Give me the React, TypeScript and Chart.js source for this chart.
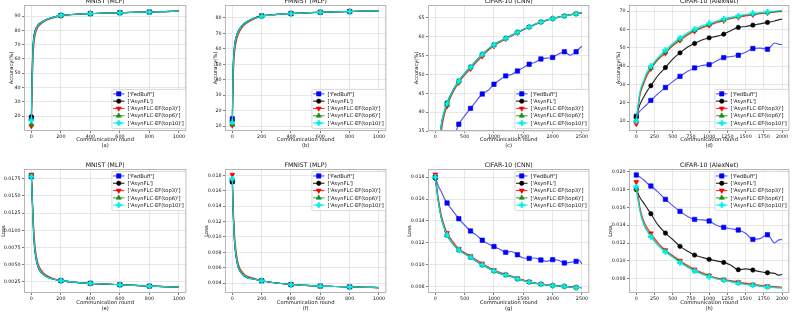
import React, { useEffect, useRef } from "react";
import { Chart, registerables } from "chart.js";
Chart.register(...registerables);

const FONT = "'DejaVu Sans', 'Liberation Sans', sans-serif";
Chart.defaults.font.family = FONT;

// ---------------- data ----------------
const SERIES_NAMES = ["['FedBuff']", "['AsynFL']", "['AsynFLC-EF(top3)']", "['AsynFLC-EF(top6)']", "['AsynFLC-EF(top10)']"];

const X_SHORT = [0, 5, 10, 15, 20, 30, 40, 50, 75, 100, 150, 200, 300, 400, 500, 600, 700, 800, 900, 1000];
const X_CNN = [0, 50, 100, 150, 200, 300, 400, 500, 600, 700, 800, 900, 1000, 1100, 1200, 1300, 1400, 1500, 1600, 1700, 1800, 1900, 2000, 2100, 2200, 2300, 2400, 2450, 2500];
const X_ALEX = [0, 50, 100, 150, 200, 300, 400, 500, 600, 700, 800, 900, 1000, 1100, 1200, 1300, 1400, 1500, 1600, 1700, 1800, 1900, 1950, 2000];

const X_TICKS_1000 = [0, 200, 400, 600, 800, 1000];
const X_TICKS_2500 = [0, 500, 1000, 1500, 2000, 2500];
const X_TICKS_2000 = [0, 250, 500, 750, 1000, 1250, 1500, 1750, 2000];

// (a) MNIST (MLP) accuracy
const A_FEDBUFF = [18.5, 48, 66, 73.5, 77.5, 81, 83, 84.3, 86.2, 87.5, 89.2, 90.5, 91.3, 91.8, 92.1, 92.4, 92.7, 92.9, 93.2, 93.5];
const A_ASYNFL = [19.5, 50, 67, 74.5, 78, 81.3, 83.2, 84.5, 86.3, 87.6, 89.3, 90.5, 91.3, 91.8, 92.1, 92.4, 92.7, 92.9, 93.2, 93.5];
const A_TOP3 = [13, 38, 56, 67, 73, 78.5, 81.2, 83, 85.3, 86.9, 88.8, 90.3, 91.2, 91.8, 92.1, 92.4, 92.7, 92.9, 93.2, 93.5];
const A_TOP6 = [14, 42, 61, 70, 75.5, 80, 82.3, 83.8, 85.8, 87.3, 89.1, 90.4, 91.3, 91.8, 92.1, 92.4, 92.7, 92.9, 93.2, 93.5];
const A_TOP10 = [17, 46, 64, 72.5, 77, 80.8, 83, 84.3, 86.2, 87.5, 89.2, 90.5, 91.3, 91.8, 92.1, 92.4, 92.7, 92.9, 93.2, 93.5];
const A_Y_TICKS = [20, 30, 40, 50, 60, 70, 80, 90];

// (b) FMNIST (MLP) accuracy
const B_FEDBUFF = [14.8, 46, 57, 62, 65.5, 69, 71.3, 73.1, 76, 77.7, 79.8, 81.3, 82.2, 82.8, 83.2, 83.6, 83.9, 84.1, 84.4, 84.6];
const B_ASYNFL = [13.5, 45, 56.5, 61.8, 65.3, 68.8, 71.2, 73, 76, 77.7, 79.8, 81.3, 82.2, 82.8, 83.2, 83.6, 83.9, 84.1, 84.4, 84.6];
const B_TOP3 = [10.5, 35, 50, 57, 61, 66, 69, 71.2, 74.6, 76.6, 79.2, 81, 82.1, 82.8, 83.2, 83.6, 83.9, 84.1, 84.4, 84.6];
const B_TOP6 = [11, 40, 53.5, 59.5, 63.3, 67.5, 70.2, 72.2, 75.3, 77.2, 79.5, 81.1, 82.2, 82.8, 83.2, 83.6, 83.9, 84.1, 84.4, 84.6];
const B_TOP10 = [12.5, 44, 56, 61.5, 65, 68.6, 71, 72.9, 75.9, 77.6, 79.7, 81.0, 82.2, 82.8, 83.2, 83.6, 83.9, 84.1, 84.4, 84.6];
const B_Y_TICKS = [10, 20, 30, 40, 50, 60, 70, 80];

// (c) CIFAR-10 (CNN) accuracy
const C_FEDBUFF = [10, 16, 20.5, 24.5, 28, 32.5, 36.8, 39, 41, 43, 44.8, 45.8, 47.4, 48.6, 49.6, 50, 50.9, 51.8, 52.7, 53.2, 54.1, 54.3, 54.5, 55.4, 56.0, 55.1, 56.0, 56.8, 57.5];
const C_ASYNFL = [10, 28, 36.5, 40, 42.5, 45.8, 48.3, 50.3, 52.0, 53.7, 55.3, 56.7, 57.9, 58.8, 59.6, 60.4, 61.2, 61.9, 62.6, 63.3, 63.9, 64.4, 64.8, 65.2, 65.5, 65.8, 66.1, 66.2, 66.3];
const C_TOP3 = [10, 25.5, 34.5, 39, 41.6, 45.2, 47.8, 49.8, 51.5, 53.2, 54.8, 56.3, 57.5, 58.5, 59.4, 60.2, 61.0, 61.8, 62.5, 63.2, 63.8, 64.3, 64.8, 65.2, 65.5, 65.8, 66.1, 66.2, 66.3];
const C_TOP6 = [10, 27, 35.8, 39.6, 41.9, 45.5, 48.1, 50.1, 51.8, 53.5, 55.1, 56.6, 57.8, 58.7, 59.5, 60.3, 61.1, 61.9, 62.6, 63.3, 63.9, 64.4, 64.8, 65.2, 65.5, 65.8, 66.1, 66.2, 66.3];
const C_TOP10 = [10, 28, 36.5, 40, 42.3, 45.8, 48.3, 50.3, 52.0, 53.7, 55.3, 56.7, 57.9, 58.8, 59.6, 60.4, 61.2, 61.9, 62.6, 63.3, 63.9, 64.4, 64.8, 65.2, 65.5, 65.8, 66.1, 66.2, 66.3];
const C_Y_TICKS = [35, 40, 45, 50, 55, 60, 65];

// (d) CIFAR-10 (AlexNet) accuracy
const D_FEDBUFF = [12.6, 15.5, 17.3, 19.3, 21.3, 25, 28.3, 31.5, 34.4, 37, 39, 40.3, 40.8, 42.8, 44.6, 45.2, 45.9, 47.5, 49.6, 49.8, 49.2, 52.6, 52.0, 51.7];
const D_ASYNFL = [12.3, 19, 23, 26.5, 29.3, 35, 39.2, 43.8, 47.2, 50.3, 52.3, 54.2, 55.4, 56.2, 57.4, 59.4, 61.1, 61.6, 62.3, 63.0, 63.8, 64.6, 65.2, 65.6];
const D_TOP3 = [8.5, 24, 30, 35, 38.5, 43.5, 47, 51, 54, 56.8, 59, 60.8, 62.2, 63.6, 64.8, 65.8, 66.6, 67.4, 68.0, 68.6, 69.0, 69.4, 69.6, 69.8];
const D_TOP6 = [10.5, 25, 31, 36, 39, 44, 47.5, 51.5, 54.5, 57.3, 59.5, 61.2, 62.6, 64, 65.2, 66.2, 67, 67.8, 68.3, 68.8, 69.2, 69.6, 69.8, 70.0];
const D_TOP10 = [10, 26, 32, 37, 40, 44.8, 48.7, 52.3, 55.4, 58, 60.2, 61.9, 63.3, 64.6, 65.8, 66.7, 67.4, 68.1, 68.7, 69.2, 69.6, 70.0, 70.2, 70.4];
const D_Y_TICKS = [10, 20, 30, 40, 50, 60, 70];

// (e) MNIST (MLP) loss
const E_FEDBUFF = [0.0178, 0.015, 0.012, 0.0095, 0.0078, 0.006, 0.005, 0.0044, 0.0037, 0.0033, 0.0029, 0.0027, 0.00245, 0.0023, 0.0022, 0.0021, 0.002, 0.0019, 0.00183, 0.00175];
const E_ASYNFL = [0.0179, 0.0151, 0.0121, 0.0096, 0.0079, 0.0061, 0.0051, 0.0044, 0.0037, 0.0033, 0.0029, 0.0027, 0.00245, 0.0023, 0.0022, 0.0021, 0.002, 0.0019, 0.00183, 0.00175];
const E_TOP3 = [0.0181, 0.0158, 0.0131, 0.0108, 0.009, 0.0068, 0.0056, 0.0049, 0.004, 0.0035, 0.003, 0.0027, 0.00245, 0.0023, 0.0022, 0.0021, 0.002, 0.0019, 0.00183, 0.00175];
const E_TOP6 = [0.0179, 0.0154, 0.0126, 0.0101, 0.0084, 0.0064, 0.0053, 0.0046, 0.0038, 0.0034, 0.0029, 0.0027, 0.00245, 0.0023, 0.0022, 0.0021, 0.002, 0.0019, 0.00183, 0.00175];
const E_TOP10 = [0.0178, 0.0151, 0.0122, 0.0097, 0.008, 0.0062, 0.0051, 0.0045, 0.0037, 0.0033, 0.0029, 0.0027, 0.00245, 0.0023, 0.0022, 0.0021, 0.002, 0.0019, 0.00183, 0.00175];
const E_Y_TICKS = [0.0025, 0.005, 0.0075, 0.01, 0.0125, 0.015, 0.0175];

// (f) FMNIST (MLP) loss
const F_FEDBUFF = [0.0172, 0.0135, 0.011, 0.0093, 0.0082, 0.0068, 0.006, 0.0056, 0.005, 0.0047, 0.0045, 0.0043, 0.004, 0.0038, 0.0037, 0.0036, 0.00355, 0.0035, 0.00345, 0.0034];
const F_ASYNFL = [0.0172, 0.0136, 0.0111, 0.0094, 0.0083, 0.0069, 0.0061, 0.0056, 0.005, 0.0047, 0.0045, 0.0043, 0.004, 0.0038, 0.0037, 0.0036, 0.00355, 0.0035, 0.00345, 0.0034];
const F_TOP3 = [0.0181, 0.0145, 0.0122, 0.0104, 0.0092, 0.0076, 0.0066, 0.006, 0.0053, 0.0049, 0.0046, 0.0043, 0.004, 0.0038, 0.0037, 0.0036, 0.00355, 0.0035, 0.00345, 0.0034];
const F_TOP6 = [0.0175, 0.014, 0.0116, 0.0098, 0.0087, 0.0072, 0.0063, 0.0058, 0.0051, 0.0048, 0.0045, 0.0043, 0.004, 0.0038, 0.0037, 0.0036, 0.00355, 0.0035, 0.00345, 0.0034];
const F_TOP10 = [0.0176, 0.0137, 0.0112, 0.0095, 0.0084, 0.007, 0.0061, 0.0056, 0.005, 0.0047, 0.0045, 0.0043, 0.004, 0.0038, 0.0037, 0.0036, 0.00355, 0.0035, 0.00345, 0.0034];
const F_Y_TICKS = [0.004, 0.006, 0.008, 0.01, 0.012, 0.014, 0.016, 0.018];

// (g) CIFAR-10 (CNN) loss
const G_FEDBUFF = [0.018, 0.0172, 0.0167, 0.0161, 0.01564, 0.0149, 0.0142, 0.0136, 0.01308, 0.0127, 0.01223, 0.0119, 0.01166, 0.0114, 0.01112, 0.0112, 0.0109, 0.0106, 0.01057, 0.0106, 0.01042, 0.0103, 0.01045, 0.0104, 0.01015, 0.0102, 0.0103, 0.0104, 0.01006];
const G_ASYNFL = [0.0179, 0.0158, 0.0143, 0.0134, 0.01268, 0.0119, 0.01132, 0.011, 0.01066, 0.0103, 0.00996, 0.0097, 0.00942, 0.0092, 0.00906, 0.0089, 0.0087, 0.00855, 0.0084, 0.0083, 0.00821, 0.00815, 0.00809, 0.00805, 0.008, 0.00795, 0.00791, 0.0079, 0.00789];
const G_TOP3 = [0.01825, 0.0161, 0.0146, 0.0136, 0.0129, 0.0121, 0.01145, 0.0111, 0.0108, 0.01045, 0.0101, 0.0098, 0.0095, 0.0093, 0.0091, 0.00895, 0.00875, 0.0086, 0.00845, 0.00832, 0.00823, 0.00816, 0.0081, 0.00806, 0.00801, 0.00796, 0.00792, 0.0079, 0.0079];
const G_TOP6 = [0.018, 0.0159, 0.0144, 0.0135, 0.0127, 0.0119, 0.01135, 0.011, 0.01068, 0.0103, 0.00998, 0.0097, 0.00944, 0.0092, 0.00907, 0.0089, 0.0087, 0.00855, 0.0084, 0.0083, 0.00821, 0.00815, 0.00809, 0.00805, 0.008, 0.00795, 0.00791, 0.0079, 0.00789];
const G_TOP10 = [0.018, 0.0158, 0.0143, 0.0134, 0.0127, 0.0119, 0.0113, 0.011, 0.01066, 0.0103, 0.00996, 0.0097, 0.00942, 0.0092, 0.00905, 0.0089, 0.0087, 0.00855, 0.0084, 0.0083, 0.0082, 0.00814, 0.00808, 0.00804, 0.008, 0.00795, 0.0079, 0.0079, 0.00788];
const G_Y_TICKS = [0.008, 0.01, 0.012, 0.014, 0.016, 0.018];

// (h) CIFAR-10 (AlexNet) loss
const H_FEDBUFF = [0.01963, 0.0194, 0.0191, 0.0187, 0.01839, 0.0177, 0.0169, 0.0162, 0.01555, 0.015, 0.01465, 0.0146, 0.01447, 0.014, 0.01376, 0.0136, 0.01346, 0.0131, 0.01241, 0.0125, 0.01293, 0.012, 0.01234, 0.0124];
const H_ASYNFL = [0.018, 0.0171, 0.0165, 0.0159, 0.01529, 0.014, 0.01312, 0.0124, 0.01163, 0.0111, 0.01065, 0.0104, 0.01017, 0.01, 0.00983, 0.0095, 0.00901, 0.0091, 0.00897, 0.0088, 0.00867, 0.0086, 0.0084, 0.00849];
const H_TOP3 = [0.01884, 0.016, 0.0145, 0.0137, 0.01309, 0.012, 0.01121, 0.0106, 0.01002, 0.0095, 0.00905, 0.0087, 0.00837, 0.0081, 0.00793, 0.00778, 0.00763, 0.0075, 0.00737, 0.00727, 0.00718, 0.00712, 0.00709, 0.00707];
const H_TOP6 = [0.0181, 0.0157, 0.0142, 0.0134, 0.0128, 0.0118, 0.0111, 0.0105, 0.0099, 0.0094, 0.0089, 0.0086, 0.0083, 0.008, 0.00786, 0.0077, 0.00755, 0.0074, 0.0073, 0.0072, 0.0071, 0.00704, 0.007, 0.00698];
const H_TOP10 = [0.01832, 0.0156, 0.0141, 0.0133, 0.01271, 0.0117, 0.011, 0.0104, 0.0098, 0.0093, 0.00886, 0.0085, 0.00822, 0.008, 0.00781, 0.00765, 0.00748, 0.00735, 0.00725, 0.00715, 0.00707, 0.007, 0.00697, 0.00695];
const H_Y_TICKS = [0.008, 0.01, 0.012, 0.014, 0.016, 0.018, 0.02];

// ---------------- styles / layout ----------------
const STYLES = [
  { color: "#0000ff", line: "rgba(40,40,255,0.8)", style: "rect", radius: 3.1, rotation: 0 },
  { color: "#000000", line: "rgba(0,0,0,0.85)", style: "circle", radius: 2.2, rotation: 0 },
  { color: "#ff0000", line: "rgba(255,0,0,0.8)", style: "triangle", radius: 2.9, rotation: 180 },
  { color: "#1a8c1a", line: "rgba(26,140,26,0.8)", style: "triangle", radius: 2.9, rotation: 0 },
  { color: "#00eeee", line: "rgba(0,230,230,0.9)", style: "plus", radius: 3, rotation: 0 },
];

const ROWS = [
  { top: 0, plotTop: 5, plotBottom: 131, xlabelOff: 8.6, subOff: 14.8 },
  { top: 156, plotTop: 169, plotBottom: 293, xlabelOff: 10, subOff: 16 },
];
const COLS = [
  { plotLeft: 24, plotRight: 187 },
  { plotLeft: 225, plotRight: 387 },
  { plotLeft: 428, plotRight: 590 },
  { plotLeft: 629, plotRight: 791 },
];

type PanelDef = {
  title: string; sub: string; ylabel: string;
  xs: number[]; series: number[][];
  xTicks: number[]; yTicks: number[]; yDec: number;
  xMin: number; xMax: number; yMin: number; yMax: number;
  legend: "lr" | "ur"; row: number; col: number; ylabelX: number;
};

const PANELS: PanelDef[] = [
  { title: "MNIST (MLP)", sub: "(a)", ylabel: "Accuracy(%)", xs: X_SHORT, series: [A_FEDBUFF, A_ASYNFL, A_TOP3, A_TOP6, A_TOP10], xTicks: X_TICKS_1000, yTicks: A_Y_TICKS, yDec: 0, xMin: -50, xMax: 1050, yMin: 9.5, yMax: 97.8, legend: "lr", row: 0, col: 0, ylabelX: 12 },
  { title: "FMNIST (MLP)", sub: "(b)", ylabel: "Accuracy(%)", xs: X_SHORT, series: [B_FEDBUFF, B_ASYNFL, B_TOP3, B_TOP6, B_TOP10], xTicks: X_TICKS_1000, yTicks: B_Y_TICKS, yDec: 0, xMin: -50, xMax: 1050, yMin: 6.9, yMax: 88.3, legend: "lr", row: 0, col: 1, ylabelX: 215.5 },
  { title: "CIFAR-10 (CNN)", sub: "(c)", ylabel: "Accuracy(%)", xs: X_CNN, series: [C_FEDBUFF, C_ASYNFL, C_TOP3, C_TOP6, C_TOP10], xTicks: X_TICKS_2500, yTicks: C_Y_TICKS, yDec: 0, xMin: -125, xMax: 2625, yMin: 35, yMax: 68.4, legend: "lr", row: 0, col: 2, ylabelX: 417 },
  { title: "CIFAR-10 (AlexNet)", sub: "(d)", ylabel: "Accuracy(%)", xs: X_ALEX, series: [D_FEDBUFF, D_ASYNFL, D_TOP3, D_TOP6, D_TOP10], xTicks: X_TICKS_2000, yTicks: D_Y_TICKS, yDec: 0, xMin: -100, xMax: 2100, yMin: 4.6, yMax: 73.3, legend: "lr", row: 0, col: 3, ylabelX: 619 },
  { title: "MNIST (MLP)", sub: "(e)", ylabel: "Loss", xs: X_SHORT, series: [E_FEDBUFF, E_ASYNFL, E_TOP3, E_TOP6, E_TOP10], xTicks: X_TICKS_1000, yTicks: E_Y_TICKS, yDec: 4, xMin: -50, xMax: 1050, yMin: 0.0009, yMax: 0.0189, legend: "ur", row: 1, col: 0, ylabelX: 3.5 },
  { title: "FMNIST (MLP)", sub: "(f)", ylabel: "Loss", xs: X_SHORT, series: [F_FEDBUFF, F_ASYNFL, F_TOP3, F_TOP6, F_TOP10], xTicks: X_TICKS_1000, yTicks: F_Y_TICKS, yDec: 3, xMin: -50, xMax: 1050, yMin: 0.0027, yMax: 0.01884, legend: "ur", row: 1, col: 1, ylabelX: 207 },
  { title: "CIFAR-10 (CNN)", sub: "(g)", ylabel: "Loss", xs: X_CNN, series: [G_FEDBUFF, G_ASYNFL, G_TOP3, G_TOP6, G_TOP10], xTicks: X_TICKS_2500, yTicks: G_Y_TICKS, yDec: 3, xMin: -125, xMax: 2625, yMin: 0.0074, yMax: 0.01875, legend: "ur", row: 1, col: 2, ylabelX: 410 },
  { title: "CIFAR-10 (AlexNet)", sub: "(h)", ylabel: "Loss", xs: X_ALEX, series: [H_FEDBUFF, H_ASYNFL, H_TOP3, H_TOP6, H_TOP10], xTicks: X_TICKS_2000, yTicks: H_Y_TICKS, yDec: 3, xMin: -100, xMax: 2100, yMin: 0.0064, yMax: 0.0203, legend: "ur", row: 1, col: 3, ylabelX: 611 },
];

const GRID = "#e2e2e2";
const FRAME = "#b5b5b5";
const TICK_FONT = 4.8;
const LABEL_FONT = 5.2;
const TITLE_FONT = 6.2;
const LEGEND_FONT = 5.2;

function makePlus(color: string) {
  const c = document.createElement("canvas");
  c.width = 6; c.height = 6;
  const g = c.getContext("2d")!;
  g.fillStyle = color;
  g.fillRect(1.9, 0.2, 2.2, 5.6);
  g.fillRect(0.2, 1.9, 5.6, 2.2);
  return c;
}

function drawMarker(ctx: CanvasRenderingContext2D, st: any, plus: HTMLCanvasElement, x: number, y: number) {
  ctx.save();
  ctx.fillStyle = st.color;
  ctx.strokeStyle = st.color;
  ctx.lineWidth = 0.6;
  ctx.beginPath();
  if (st.style === "rect") {
    const s = st.radius * Math.SQRT1_2;
    ctx.rect(x - s, y - s, 2 * s, 2 * s);
    ctx.fill(); ctx.stroke();
  } else if (st.style === "circle") {
    ctx.arc(x, y, st.radius, 0, Math.PI * 2);
    ctx.fill(); ctx.stroke();
  } else if (st.style === "triangle") {
    const r = st.radius;
    const dir = st.rotation === 180 ? -1 : 1;
    ctx.moveTo(x, y - dir * r);
    ctx.lineTo(x - r * 0.866, y + dir * r * 0.5);
    ctx.lineTo(x + r * 0.866, y + dir * r * 0.5);
    ctx.closePath();
    ctx.fill(); ctx.stroke();
  } else {
    ctx.drawImage(plus, x - plus.width / 2, y - plus.height / 2);
  }
  ctx.restore();
}

function Panel({ p }: { p: PanelDef }) {
  const ref = useRef<HTMLCanvasElement>(null);
  const row = ROWS[p.row];
  const col = COLS[p.col];
  const yW = p.col === 0 ? col.plotLeft : 30;
  const canvasLeft = col.plotLeft - yW;
  const canvasRight = Math.min(793, col.plotRight + 3);
  const W = canvasRight - canvasLeft;
  const H = 156;
  const padTop = row.plotTop - row.top;
  const xH = row.top + H - row.plotBottom;

  useEffect(() => {
    const plus = makePlus(STYLES[4].color);
    const last = p.xs[p.xs.length - 1];
    const datasets = p.series.map((ys, i) => {
      const st = STYLES[i];
      return {
        label: SERIES_NAMES[i],
        data: p.xs.map((x, k) => ({ x, y: ys[k] })),
        borderColor: st.line,
        backgroundColor: st.color,
        borderWidth: 1.15,
        pointStyle: st.style === "plus" ? plus : st.style,
        pointRotation: st.rotation,
        pointRadius: (c: any) => {
          const x = c.raw && c.raw.x;
          return typeof x === "number" && x % 200 === 0 && x !== last ? st.radius : 0;
        },
        pointHoverRadius: 0,
        pointBackgroundColor: st.color,
        pointBorderColor: st.color,
        pointBorderWidth: 0.6,
        cubicInterpolationMode: "monotone",
        fill: false,
        order: 4 - i,
      };
    });

    const decor = {
      id: "decor",
      afterDatasetsDraw(chart: any) {
        const ctx: CanvasRenderingContext2D = chart.ctx;
        const a = chart.chartArea;
        ctx.save();
        ctx.strokeStyle = FRAME;
        ctx.lineWidth = 1;
        ctx.strokeRect(a.left + 0.5, a.top + 0.5, a.right - a.left - 1, a.bottom - a.top - 1);
        // legend
        ctx.font = `${LEGEND_FONT}px ${FONT}`;
        let tw = 0;
        SERIES_NAMES.forEach((n) => { tw = Math.max(tw, ctx.measureText(n).width); });
        const rowH = 7.3, padX = 1.6, sample = 11.5, gap = 3;
        const w = padX + sample + gap + tw + 1.5;
        const h = rowH * 5 + 2.6;
        const lx = a.right - 1 - w;
        const ly = p.legend === "lr" ? a.bottom - 3 - h : a.top + 2;
        ctx.beginPath();
        (ctx as any).roundRect ? (ctx as any).roundRect(lx + 0.5, ly + 0.5, w, h, 1.5) : ctx.rect(lx + 0.5, ly + 0.5, w, h);
        ctx.fillStyle = "rgba(255,255,255,0.85)";
        ctx.fill();
        ctx.strokeStyle = "#cfcfcf";
        ctx.lineWidth = 0.8;
        ctx.stroke();
        SERIES_NAMES.forEach((n, i) => {
          const st = STYLES[i];
          const cy = ly + 1.3 + rowH * (i + 0.5);
          ctx.beginPath();
          ctx.strokeStyle = st.line;
          ctx.lineWidth = 1.1;
          ctx.moveTo(lx + padX, cy);
          ctx.lineTo(lx + padX + sample, cy);
          ctx.stroke();
          drawMarker(ctx, st, plus, lx + padX + sample / 2, cy);
          ctx.fillStyle = "#111";
          ctx.textAlign = "left";
          ctx.textBaseline = "middle";
          ctx.fillText(n, lx + padX + sample + gap, cy + 0.3);
        });
        ctx.restore();
      },
      afterDraw(chart: any) {
        const ctx: CanvasRenderingContext2D = chart.ctx;
        const a = chart.chartArea;
        const cx = (a.left + a.right) / 2;
        ctx.save();
        ctx.fillStyle = "#111";
        ctx.textAlign = "center";
        ctx.font = `${TITLE_FONT}px ${FONT}`;
        ctx.textBaseline = "alphabetic";
        ctx.fillText(p.title, cx, a.top - 1.8);
        ctx.font = `${LABEL_FONT}px ${FONT}`;
        ctx.textBaseline = "middle";
        ctx.fillText("Communication round", cx, a.bottom + row.xlabelOff);
        ctx.fillText(p.sub, cx, a.bottom + row.subOff);
        ctx.translate(p.ylabelX - canvasLeft, (a.top + a.bottom) / 2);
        ctx.rotate(-Math.PI / 2);
        ctx.fillText(p.ylabel, 0, 0);
        ctx.restore();
      },
    };

    const chart = new Chart(ref.current!, {
      type: "line",
      data: { datasets: datasets as any },
      options: {
        responsive: false,
        animation: false,
        devicePixelRatio: 1,
        layout: { padding: { top: padTop, right: canvasRight - col.plotRight, left: 0, bottom: 0 } },
        plugins: { legend: { display: false }, tooltip: { enabled: false }, title: { display: false } },
        events: [],
        scales: {
          x: {
            type: "linear",
            min: p.xMin,
            max: p.xMax,
            afterBuildTicks: (s: any) => { s.ticks = p.xTicks.map((v) => ({ value: v })); },
            afterFit: (s: any) => { s.height = xH; },
            ticks: { font: { size: TICK_FONT, family: FONT }, color: "#111", padding: 0.6, maxRotation: 0, autoSkip: false, callback: (v: any) => String(v) },
            grid: { color: GRID, lineWidth: 0.8, tickColor: "#444", tickLength: 2, tickWidth: 0.7 },
            border: { display: false },
          },
          y: {
            type: "linear",
            min: p.yMin,
            max: p.yMax,
            afterBuildTicks: (s: any) => { s.ticks = p.yTicks.map((v) => ({ value: v })); },
            afterFit: (s: any) => { s.width = yW; },
            ticks: { font: { size: TICK_FONT, family: FONT }, color: "#111", padding: 1.5, autoSkip: false, callback: (v: any) => Number(v).toFixed(p.yDec) },
            grid: { color: GRID, lineWidth: 0.8, tickColor: "#444", tickLength: 2, tickWidth: 0.7 },
            border: { display: false },
          },
        },
      } as any,
      plugins: [decor],
    });
    return () => chart.destroy();
  }, []);

  return (
    <canvas
      ref={ref}
      width={W}
      height={H}
      style={{ position: "absolute", left: canvasLeft, top: row.top, width: W, height: H }}
    />
  );
}

export default function App() {
  return (
    <div style={{ position: "fixed", left: 0, top: 0, width: 793, height: 312, background: "#fff", overflow: "hidden" }}>
      {PANELS.map((p, i) => (
        <Panel key={i} p={p} />
      ))}
    </div>
  );
}
